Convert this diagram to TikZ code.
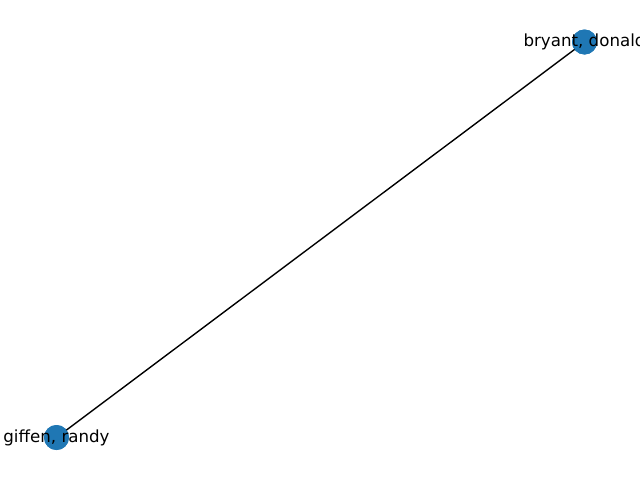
\documentclass[tikz,border=0pt]{standalone}
\usepackage{fontspec}
\setmainfont{DejaVu Sans}
\definecolor{nxblue}{HTML}{1F77B4}
\tikzset{
  dot/.style={circle,fill=nxblue,draw=none,minimum size=25pt,inner sep=0pt},
  lbl/.style={font=\fontsize{16.67pt}{20pt}\selectfont,inner sep=0pt,anchor=center},
  edge/.style={line width=1.39pt,black}
}
\begin{document}
\begin{tikzpicture}[x=1pt,y=-1pt]
\useasboundingbox (0,0) rectangle (640,480);
\clip (0,0) rectangle (640,480);
\node[dot] (b) at (584.5,42) {};
\node[dot] (g) at (56.5,437.5) {};
\draw[edge] (b.center) -- (g.center);
\node[dot] at (584.5,42) {};
\node[dot] at (56.5,437.5) {};
\node[lbl] (bl) at (584.5,42) {bryant, donald};
\node[lbl] (gl) at (56.5,437.5) {giffen, randy};
\end{tikzpicture}
\end{document}
